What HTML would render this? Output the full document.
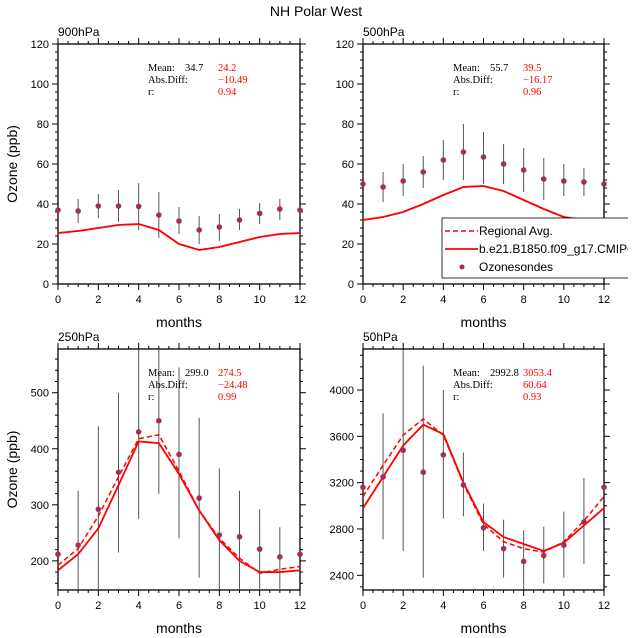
<!DOCTYPE html>
<html><head><meta charset="utf-8"><style>
body{margin:0;background:#fff}
svg{display:block;font-family:"Liberation Sans",sans-serif}
.s{font-family:"Liberation Serif",serif;font-size:10.5px}
</style></head><body>
<svg id="c" width="632" height="638" viewBox="0 0 632 638">
<defs><clipPath id="lgclip"><rect x="0" y="0" width="628" height="638"/></clipPath></defs>
<text x="316" y="16" text-anchor="middle" font-size="14">NH Polar West</text>
</svg>
<script>
const months=[0,1,2,3,4,5,6,7,8,9,10,11,12];
const p900Obs=[37,36.5,39,39,38.8,34.5,31.5,27,28.5,32,35.3,37.5,37];
const p900Lo=[37,30.5,33,31,27,23,25,20,21.5,27,30,32,37];
const p900Hi=[37,42.5,45,47,50.5,46,38.5,34,35,37.5,40.5,42.5,37];
const p900Model=[25.5,26.5,28,29.5,30,27,20,17,18.5,21,23.5,25,25.5];
const p900Reg=[25.5,26.5,28,29.5,30,27,20,17,18.5,21,23.5,25,25.5];
const p500Obs=[50,48.5,51.5,56,62,66,63.5,60,57,52.5,51.5,51,50];
const p500Lo=[50,41,44,48,52,52,50,50,46,42,44,44,50];
const p500Hi=[50,56,60,64,72,80,76,70,68,63,60,58,50];
const p500Model=[32,33.5,36,40,44.5,48.5,49,46.5,42,37.5,33.5,32,31.5];
const p500Reg=[32,33.5,36,40,44.5,48.5,49,46.5,42,37.5,33.5,32,31.5];
const p250Obs=[212,228,292,358,430,450,390,312,246,243,221,207,212];
const p250Lo=[212,135,140,215,275,320,240,170,148,150,150,150,212];
const p250Hi=[212,325,440,500,580,580,545,455,365,325,292,260,212];
const p250Model=[183,212,258,335,413,410,355,290,237,200,180,180,183];
const p250Reg=[192,222,280,350,418,425,360,290,240,205,178,185,190];
const p50Obs=[3160,3250,3480,3290,3440,3180,2810,2630,2520,2570,2660,2860,3160];
const p50Lo=[3160,2710,2610,2380,2890,2910,2610,2380,2270,2330,2380,2500,3160];
const p50Hi=[3160,3800,4350,4210,4000,3460,3020,2880,2790,2820,2950,3240,3160];
const p50Model=[2980,3250,3520,3700,3620,3200,2860,2730,2670,2610,2680,2830,2980];
const p50Reg=[3080,3350,3610,3750,3610,3190,2840,2690,2630,2600,2690,2870,3080];
const xTicks=[0,2,4,6,8,10,12];
const svg=document.getElementById('c');const NS='http://www.w3.org/2000/svg';
function mk(t,a,p){const e=document.createElementNS(NS,t);for(const k in a)e.setAttribute(k,a[k]);(p||svg).appendChild(e);return e;}
const panels=[
 {name:'900hpa',label:'900hPa',x0:58,x1:300,y0:44,y1:284,vmin:0,vmax:120,yt:[0,20,40,60,80,100,120],ym:4,obs:p900Obs,lo:p900Lo,hi:p900Hi,mod:p900Model,reg:p900Reg,stats:['34.7','24.2','\u221210.49','0.94'],ylab:true},
 {name:'500hpa',label:'500hPa',x0:363,x1:604,y0:44,y1:284,vmin:0,vmax:120,yt:[0,20,40,60,80,100,120],ym:4,obs:p500Obs,lo:p500Lo,hi:p500Hi,mod:p500Model,reg:p500Reg,stats:['55.7','39.5','\u221216.17','0.96'],ylab:false},
 {name:'250hpa',label:'250hPa',x0:58,x1:300,y0:349,y1:590,vmin:148,vmax:578,yt:[200,300,400,500],ym:20,obs:p250Obs,lo:p250Lo,hi:p250Hi,mod:p250Model,reg:p250Reg,stats:['299.0','274.5','\u221224.48','0.99'],ylab:true},
 {name:'50hpa',label:'50hPa',x0:363,x1:604,y0:349,y1:590,vmin:2273,vmax:4354,yt:[2400,2800,3200,3600,4000],ym:100,obs:p50Obs,lo:p50Lo,hi:p50Hi,mod:p50Model,reg:p50Reg,stats:['2992.8','3053.4','60.64','0.93'],ylab:false}
];
panels.forEach(P=>{
 const g=mk('g',{});
 
 
 const X=v=>P.x0+(v-0)/12*(P.x1-P.x0);
 const Y=v=>P.y1-(v-P.vmin)/(P.vmax-P.vmin)*(P.y1-P.y0);
 mk('rect',{x:P.x0,y:P.y0,width:P.x1-P.x0,height:P.y1-P.y0,fill:'none',stroke:'#000','stroke-width':1.3},g);
 for(let m=0;m<=12;m+=0.5){const L=(m%2===0)?6:3;
  mk('line',{x1:X(m),x2:X(m),y1:P.y1,y2:P.y1+L,stroke:'#000'},g);
  mk('line',{x1:X(m),x2:X(m),y1:P.y0,y2:P.y0-L,stroke:'#000'},g);}
 for(let v=Math.ceil(P.vmin/P.ym)*P.ym;v<=P.vmax;v+=P.ym){const maj=P.yt.includes(v);const L=maj?6:3;
  mk('line',{x1:P.x0,x2:P.x0-L,y1:Y(v),y2:Y(v),stroke:'#000'},g);
  mk('line',{x1:P.x1,x2:P.x1+L,y1:Y(v),y2:Y(v),stroke:'#000'},g);}
 xTicks.forEach(t=>{const e=mk('text',{x:X(t),y:P.y1+19,'text-anchor':'middle','font-size':11},g);e.textContent=t;
  });
 P.yt.forEach(t=>{const e=mk('text',{x:P.x0-9,y:Y(t)+4,'text-anchor':'end','font-size':11},g);e.textContent=t;
  });
 const lb=mk('text',{x:P.x0,y:P.y0-8,'font-size':12},g);lb.textContent=P.label;
 
 const xl=mk('text',{x:(P.x0+P.x1)/2,y:P.y1+43,'text-anchor':'middle','font-size':14},g);xl.textContent='months';
 
 if(P.ylab){const yl=mk('text',{x:0,y:0,'text-anchor':'middle','font-size':14,transform:`translate(17,${(P.y0+P.y1)/2}) rotate(-90)`},g);yl.textContent='Ozone (ppb)';
  }
 months.forEach((m,i)=>{const b=mk('line',{x1:X(m),x2:X(m),y1:Math.max(P.y0,Y(P.hi[i])),y2:Math.min(P.y1,Y(P.lo[i])),stroke:'#555','stroke-width':1},g);
  });
 const pts=a=>months.map((m,i)=>X(m)+','+Y(a[i])).join(' ');
 const r=mk('polyline',{points:pts(P.reg),fill:'none',stroke:'#f00','stroke-width':1.5,'stroke-dasharray':'5,3'},g);
 
 const s=mk('polyline',{points:pts(P.mod),fill:'none',stroke:'#f00','stroke-width':1.8},g);
 
 months.forEach((m,i)=>{const c=mk('circle',{cx:X(m),cy:Y(P.obs[i]),r:2.8,fill:'#a0305a'},g);
  });
 const sx=P.x0+90,sy=P.y0+27;
 const st=mk('g',{class:'s'},g);
 [['Mean:',0],['Abs.Diff:',12],['r:',24]].forEach(([t,dy])=>{const e=mk('text',{x:sx,y:sy+dy},st);e.textContent=t;});
 const m1=mk('text',{x:sx+37,y:sy},st);m1.textContent=P.stats[0];
 [[P.stats[1],0],[P.stats[2],12],[P.stats[3],24]].forEach(([t,dy])=>{const e=mk('text',{x:sx+70,y:sy+dy,fill:'#f00'},st);e.textContent=t;});
});
const lg=mk('g',{'clip-path':'url(#lgclip)'});
mk('rect',{x:442,y:218,width:200,height:60,fill:'#fff',stroke:'#000','stroke-width':0.8},lg);
mk('line',{x1:445,x2:478,y1:231,y2:231,stroke:'#f00','stroke-width':1.5,'stroke-dasharray':'5,3'},lg);
mk('line',{x1:445,x2:478,y1:249,y2:249,stroke:'#f00','stroke-width':1.8},lg);
mk('circle',{cx:462,cy:267,r:2.5,fill:'#a0305a'},lg);
[['Regional Avg.',235],['b.e21.B1850.f09_g17.CMIP6-piControl',253],['Ozonesondes',271]].forEach(([t,y])=>{const e=mk('text',{x:479,y:y,'font-size':12},lg);e.textContent=t;
 });
</script>
</body></html>
